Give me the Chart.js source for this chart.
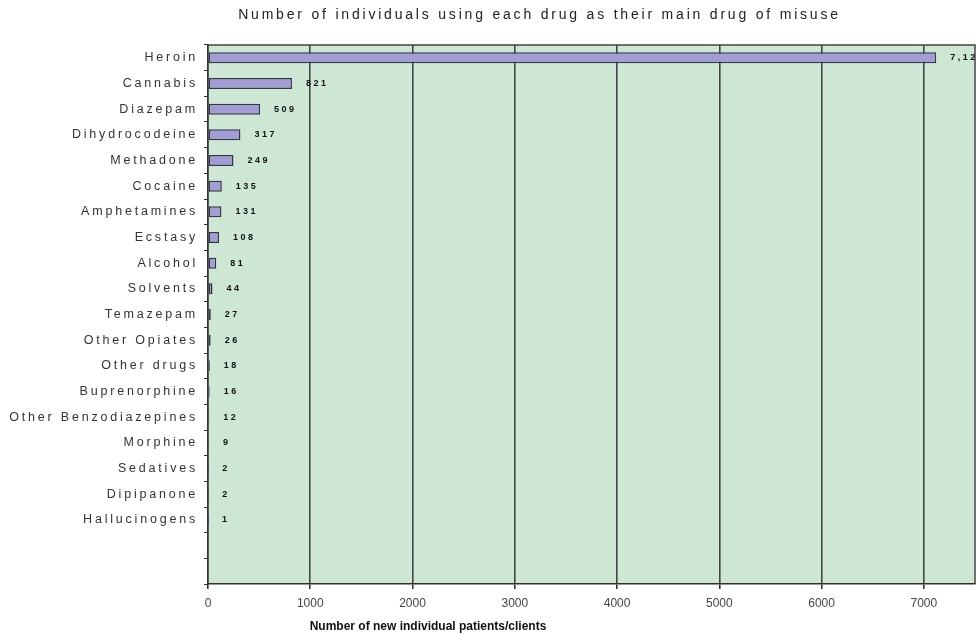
<!DOCTYPE html>
<html><head><meta charset="utf-8">
<script src="https://cdn.jsdelivr.net/npm/chart.js@4"></script>
<style>html,body{margin:0;padding:0;background:#fff}#wrap{width:976px;height:635px}</style>
</head><body><div id="wrap"><canvas id="c" width="976" height="635"></canvas></div>
<script>
const drugs = ['Heroin','Cannabis','Diazepam','Dihydrocodeine','Methadone','Cocaine','Amphetamines','Ecstasy','Alcohol','Solvents','Temazepam','Other Opiates','Other drugs','Buprenorphine','Other Benzodiazepines','Morphine','Sedatives','Dipipanone','Hallucinogens','',''];
const counts = [7121,821,509,317,249,135,131,108,81,44,27,26,18,16,12,9,2,2,1,null,null];
const xTickValues = [0,1000,2000,3000,4000,5000,6000,7000];
const xMax = 7500;
const titleText = 'Number of individuals using each drug as their main drug of misuse';
const xTitle = 'Number of new individual patients/clients';

const styling = {
  id: 'styling',
  afterLayout(chart) {
    // the axis title in the original sits left of the plot centre
    const t = chart.scales.xTitleAxis;
    if (t) { t.left = 0; t.right = 856; }
  },
  beforeDraw(chart) {
    const {ctx, chartArea: a} = chart;
    ctx.save();
    ctx.fillStyle = '#cee7d5';
    ctx.fillRect(a.left, a.top, a.right - a.left, a.bottom - a.top);
    ctx.restore();
    ctx.letterSpacing = '2.8px';
  },
  beforeDatasetsDraw(chart) {
    const {ctx, chartArea: a} = chart;
    ctx.save();
    ctx.strokeStyle = '#444';
    ctx.lineWidth = 1.5;
    ctx.beginPath();
    ctx.moveTo(a.left, a.top); ctx.lineTo(a.right, a.top); ctx.lineTo(a.right, a.bottom);
    ctx.stroke();
    ctx.restore();
  },
  afterDatasetsDraw(chart) {
    const {ctx} = chart;
    const meta = chart.getDatasetMeta(0);
    ctx.save();
    ctx.letterSpacing = '2.5px';
    ctx.font = 'bold 9px "Liberation Sans"';
    ctx.fillStyle = '#111';
    ctx.textAlign = 'left';
    ctx.textBaseline = 'middle';
    meta.data.forEach((bar, i) => {
      const v = counts[i];
      if (v === null || v === undefined) return;
      ctx.fillText(v.toLocaleString('en-US'), bar.x + 14, bar.y);
    });
    ctx.restore();
    ctx.letterSpacing = '0px';
  }
};

new Chart(document.getElementById('c'), {
  type: 'bar',
  data: {
    labels: drugs,
    datasets: [{
      data: counts,
      xAxisID: 'x',
      yAxisID: 'y',
      backgroundColor: '#a29dd6',
      borderColor: '#363646',
      borderWidth: 1.5,
      borderSkipped: false,
      categoryPercentage: 1,
      barPercentage: 0.43
    }]
  },
  options: {
    indexAxis: 'y',
    responsive: false,
    animation: false,
    devicePixelRatio: 1,
    layout: {padding: {left: 4, right: -99, top: 0, bottom: 0}},
    plugins: {
      legend: {display: false},
      tooltip: {enabled: false},
      title: {
        display: true,
        text: titleText,
        color: '#222',
        font: {family: 'Liberation Sans', size: 14, weight: 'normal'},
        padding: {top: 6.6, bottom: 21.6}
      }
    },
    scales: {
      y: {
        type: 'category',
        position: 'left',
        offset: true,
        grid: {display: true, drawOnChartArea: false, drawTicks: true, tickLength: 4, color: '#333', offset: true},
        border: {display: true, color: '#333', width: 1.5},
        ticks: {font: {family: 'Liberation Sans', size: 12.5}, color: '#333', padding: 6, autoSkip: false},
        afterFit(s) { s.width = 204; }
      },
      yPad: {
        type: 'category',
        axis: 'y',
        position: 'right',
        grid: {display: false},
        border: {display: false},
        ticks: {display: false},
        afterFit(s) { s.width = 100; }
      },
      x: {
        type: 'linear',
        position: 'bottom',
        weight: 0,
        min: 0,
        max: xMax,
        grid: {color: '#454545', lineWidth: 1.6, tickLength: 5, tickColor: '#333'},
        border: {display: true, color: '#333', width: 1.5},
        afterBuildTicks(s) { s.ticks = xTickValues.map(v => ({value: v})); },
        ticks: {
          z: 1,
          padding: 7,
          maxRotation: 0,
          autoSkip: false,
          color: '#444',
          font: {family: 'Liberation Sans', size: 12},
          callback: (v) => String(v)
        },
        afterFit(s) { s.height = 29; }
      },
      xTitleAxis: {
        type: 'linear',
        axis: 'x',
        position: 'bottom',
        weight: 10,
        min: 0,
        max: 1,
        grid: {display: false, z: 1},
        border: {display: false},
        ticks: {display: false},
        title: {
          display: true,
          text: xTitle,
          color: '#111',
          font: {family: 'Liberation Sans', size: 12, weight: 'bold'},
          padding: {top: 4, bottom: 1}
        },
        afterFit(s) { s.height = 22; }
      }
    }
  },
  plugins: [styling]
});
</script>
</body></html>
